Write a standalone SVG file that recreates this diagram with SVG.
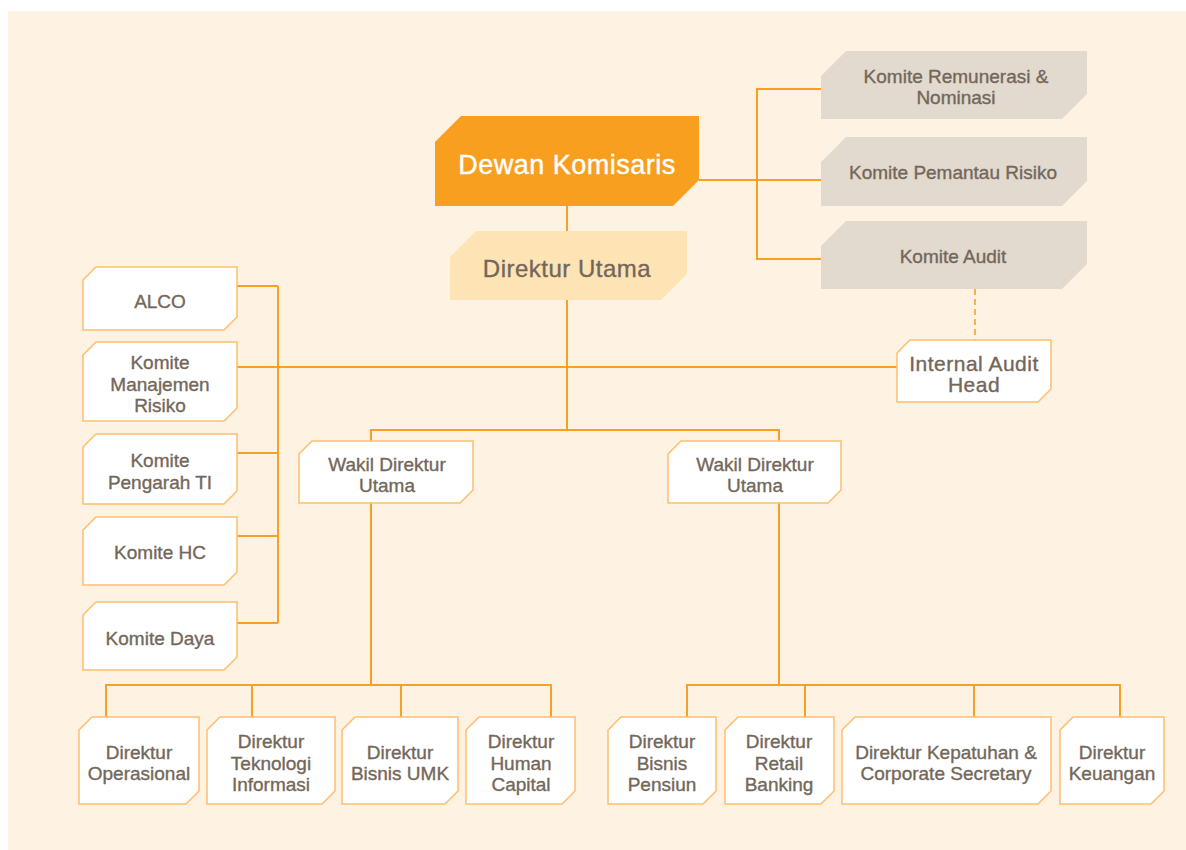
<svg xmlns="http://www.w3.org/2000/svg" width="1186" height="850" viewBox="0 0 1186 850">
  <style>
    .bg { fill: #FEF3E2; }
    .link { fill: none; stroke: #F7A023; stroke-width: 2; }
    .dash { fill: none; stroke: #F9B253; stroke-width: 2; stroke-dasharray: 6 4; }
    .node { fill: #FFFFFF; stroke: #FDBE6E; stroke-width: 1.5; }
    .board { fill: #F89F1F; }
    .ceo { fill: #FEE3B5; }
    .cmte { fill: #E2D9CF; }
    text { font-family: "Liberation Sans", Arial, sans-serif; fill: #73675A; stroke: #73675A; stroke-width: 0.35px; text-anchor: middle; font-size: 19px; }
    .big { font-size: 27px; fill: #FFFFFF; stroke: #FFFFFF; stroke-width: 0.4px; letter-spacing: 0.5px; }
    .mid { font-size: 24px; letter-spacing: 0.5px; }
    .iah { font-size: 21px; letter-spacing: 0.5px; }
  </style>

  <rect class="bg" x="8" y="11" width="1178" height="839"/>

  <!-- connectors -->
  <g id="connectors">
    <path class="link" d="M567,206 V231"/>
    <path class="link" d="M567,300 V430"/>
    <path class="link" d="M371,441 V430 H779 V441"/>
    <!-- management committees -->
    <path class="link" d="M237,286 H278 M237,453 H278 M237,536 H278 M237,623 H278 M278,286 V623"/>
    <path class="link" d="M237,367 H897"/>
    <!-- board committees -->
    <path class="link" d="M699,180 H821"/>
    <path class="link" d="M821,89 H757 V259 H821"/>
    <path class="dash" d="M975,289 V340"/>
    <!-- directors under left deputy -->
    <path class="link" d="M371,503 V685"/>
    <path class="link" d="M106,717 V685 H551 V717 M252,685 V717 M401,685 V717"/>
    <!-- directors under right deputy -->
    <path class="link" d="M779,503 V685"/>
    <path class="link" d="M687,717 V685 H1120 V717 M805,685 V717 M974,685 V717"/>
  </g>

  <g id="dewan-komisaris">
    <path class="board" d="M435,142 L461,116 L699,116 L699,180 L673,206 L435,206 Z"/>
    <text class="big" x="567" y="174">Dewan Komisaris</text>
  </g>

  <g id="direktur-utama">
    <path class="ceo" d="M450,257 L476,231 L687,231 L687,274 L661,300 L450,300 Z"/>
    <text class="mid" x="567" y="277">Direktur Utama</text>
  </g>

  <g id="komite-remunerasi">
    <path class="cmte" d="M821,76 L846,51 L1087,51 L1087,94 L1062,119 L821,119 Z"/>
    <text x="956" y="83">Komite Remunerasi &amp;</text>
    <text x="956" y="104">Nominasi</text>
  </g>

  <g id="komite-pemantau-risiko">
    <path class="cmte" d="M821,162 L846,137 L1087,137 L1087,181 L1062,206 L821,206 Z"/>
    <text x="953" y="179">Komite Pemantau Risiko</text>
  </g>

  <g id="komite-audit">
    <path class="cmte" d="M821,246 L846,221 L1087,221 L1087,264 L1062,289 L821,289 Z"/>
    <text x="953" y="263">Komite Audit</text>
  </g>

  <g id="internal-audit-head">
    <path class="node" d="M897,353 L910,340 L1051,340 L1051,389 L1038,402 L897,402 Z"/>
    <text class="iah" x="974" y="371">Internal Audit</text>
    <text class="iah" x="974" y="392">Head</text>
  </g>

  <g id="alco">
    <path class="node" d="M83,280 L96,267 L237,267 L237,317 L224,330 L83,330 Z"/>
    <text x="160" y="308">ALCO</text>
  </g>

  <g id="komite-manajemen-risiko">
    <path class="node" d="M83,355 L96,342 L237,342 L237,408 L224,421 L83,421 Z"/>
    <text x="160" y="369">Komite</text>
    <text x="160" y="391">Manajemen</text>
    <text x="160" y="412">Risiko</text>
  </g>

  <g id="komite-pengarah-ti">
    <path class="node" d="M83,447 L96,434 L237,434 L237,491 L224,504 L83,504 Z"/>
    <text x="160" y="467">Komite</text>
    <text x="160" y="489">Pengarah TI</text>
  </g>

  <g id="komite-hc">
    <path class="node" d="M83,530 L96,517 L237,517 L237,572 L224,585 L83,585 Z"/>
    <text x="160" y="559">Komite HC</text>
  </g>

  <g id="komite-daya">
    <path class="node" d="M83,615 L96,602 L237,602 L237,657 L224,670 L83,670 Z"/>
    <text x="160" y="645">Komite Daya</text>
  </g>

  <g id="wakil-direktur-utama-1">
    <path class="node" d="M299,454 L312,441 L473,441 L473,490 L460,503 L299,503 Z"/>
    <text x="387" y="471">Wakil Direktur</text>
    <text x="387" y="492">Utama</text>
  </g>

  <g id="wakil-direktur-utama-2">
    <path class="node" d="M668,454 L681,441 L841,441 L841,490 L828,503 L668,503 Z"/>
    <text x="755" y="471">Wakil Direktur</text>
    <text x="755" y="492">Utama</text>
  </g>

  <g id="direktur-operasional">
    <path class="node" d="M79,730 L92,717 L199,717 L199,791 L186,804 L79,804 Z"/>
    <text x="139" y="759">Direktur</text>
    <text x="139" y="780">Operasional</text>
  </g>

  <g id="direktur-teknologi-informasi">
    <path class="node" d="M207,730 L220,717 L335,717 L335,791 L322,804 L207,804 Z"/>
    <text x="271" y="748">Direktur</text>
    <text x="271" y="770">Teknologi</text>
    <text x="271" y="791">Informasi</text>
  </g>

  <g id="direktur-bisnis-umk">
    <path class="node" d="M342,730 L355,717 L458,717 L458,791 L445,804 L342,804 Z"/>
    <text x="400" y="759">Direktur</text>
    <text x="400" y="780">Bisnis UMK</text>
  </g>

  <g id="direktur-human-capital">
    <path class="node" d="M466,730 L479,717 L575,717 L575,791 L562,804 L466,804 Z"/>
    <text x="521" y="748">Direktur</text>
    <text x="521" y="770">Human</text>
    <text x="521" y="791">Capital</text>
  </g>

  <g id="direktur-bisnis-pensiun">
    <path class="node" d="M608,730 L621,717 L716,717 L716,791 L703,804 L608,804 Z"/>
    <text x="662" y="748">Direktur</text>
    <text x="662" y="770">Bisnis</text>
    <text x="662" y="791">Pensiun</text>
  </g>

  <g id="direktur-retail-banking">
    <path class="node" d="M725,730 L738,717 L834,717 L834,791 L821,804 L725,804 Z"/>
    <text x="779" y="748">Direktur</text>
    <text x="779" y="770">Retail</text>
    <text x="779" y="791">Banking</text>
  </g>

  <g id="direktur-kepatuhan">
    <path class="node" d="M842,730 L855,717 L1051,717 L1051,791 L1038,804 L842,804 Z"/>
    <text x="946" y="759">Direktur Kepatuhan &amp;</text>
    <text x="946" y="780">Corporate Secretary</text>
  </g>

  <g id="direktur-keuangan">
    <path class="node" d="M1060,730 L1073,717 L1164,717 L1164,791 L1151,804 L1060,804 Z"/>
    <text x="1112" y="759">Direktur</text>
    <text x="1112" y="780">Keuangan</text>
  </g>
</svg>
